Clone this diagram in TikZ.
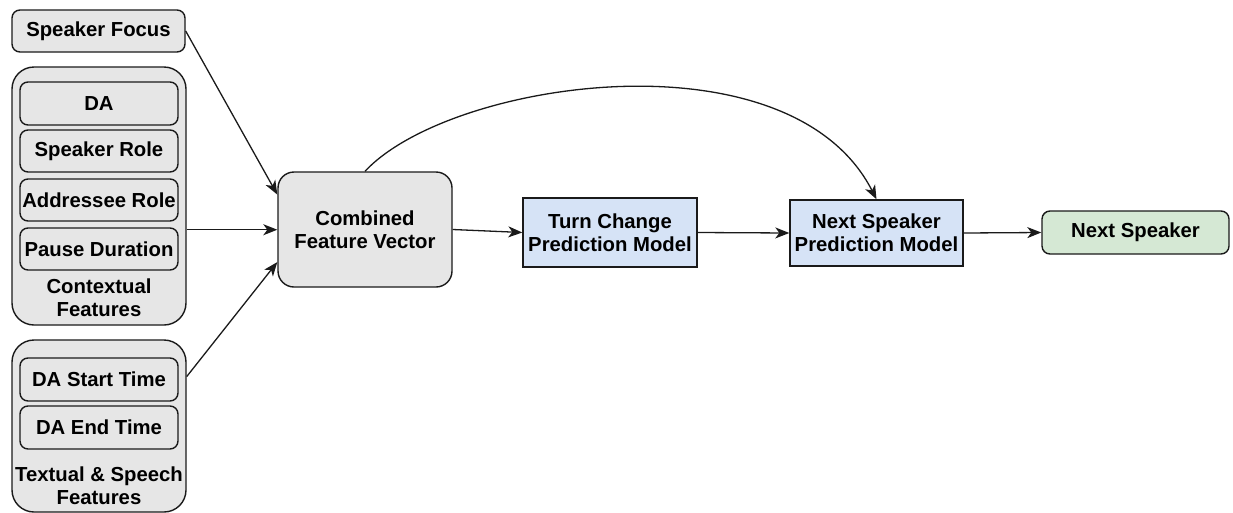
\documentclass[tikz,border=0pt]{standalone}
\usepackage{fontspec}
\setmainfont{Liberation Sans}
\usetikzlibrary{arrows.meta,calc}
\definecolor{grayfill}{HTML}{E6E6E6}
\definecolor{bluefill}{HTML}{D6E3F6}
\definecolor{greenfill}{HTML}{D5E8D4}
\definecolor{edge}{HTML}{1A1A1A}
\tikzset{
  base/.style={draw=edge, line width=1.4pt, inner sep=0pt, align=center,
    font=\fontsize{20.3}{23}\selectfont\bfseries},
  rbox/.style={base, fill=grayfill, rounded corners=8pt},
  group/.style={base, fill=grayfill, rounded corners=22pt},
  bigbox/.style={base, fill=grayfill, rounded corners=16pt},
  model/.style={base, fill=bluefill},
  outbox/.style={base, fill=greenfill, rounded corners=8pt},
  lbl/.style={inner sep=0pt, align=center, font=\fontsize{20.3}{23}\selectfont\bfseries},
  conn/.style={draw=edge, line width=1.3pt, -{Stealth[length=14pt,width=11pt,inset=4pt]}}
}
\begin{document}
\begin{tikzpicture}[x=1pt,y=-1pt]
\useasboundingbox (0,0) rectangle (1233,512);
% groups
\node[group, minimum width=174pt, minimum height=258pt] (ctx) at (99,196) {};
\node[group, minimum width=174pt, minimum height=172pt] (txt) at (99,426) {};
% inputs
\node[rbox, minimum width=173pt, minimum height=42pt] (sf) at (98.5,31) {Speaker Focus};
\node[rbox, minimum width=158pt, minimum height=43pt] (da) at (99,103.5) {DA};
\node[rbox, minimum width=158pt, minimum height=42pt] (sr) at (99,151) {Speaker Role};
\node[rbox, minimum width=158pt, minimum height=42pt] (ar) at (99,200) {Addressee Role};
\node[rbox, minimum width=158pt, minimum height=42pt] (pd) at (99,249) {Pause Duration};
\node[lbl] (ctxl) at (99,298) {Contextual\\Features};
\node[rbox, minimum width=158pt, minimum height=43pt] (dst) at (99,379.5) {DA Start Time};
\node[rbox, minimum width=158pt, minimum height=43pt] (det) at (99,427.5) {DA End Time};
\node[lbl] (txtl) at (99,485.5) {Textual \& Speech\\Features};
% main chain
\node[bigbox, minimum width=174pt, minimum height=115pt] (cfv) at (365,229.5) {Combined\\Feature Vector};
\node[model, minimum width=174pt, minimum height=69pt] (tc) at (610,232.5) {Turn Change\\Prediction Model};
\node[model, minimum width=173pt, minimum height=66pt] (pred) at (876.5,233) {Next Speaker\\Prediction Model};
\node[outbox, minimum width=187pt, minimum height=43pt] (ns) at (1135.5,232.5) {Next Speaker};
% connectors
\coordinate (c1) at ($(ctx.north east)!0.63!(ctx.south east)$);
\coordinate (c2) at ($(txt.north east)!0.215!(txt.south east)$);
\coordinate (t1) at ($(cfv.north west)!0.2!(cfv.south west)$);
\coordinate (t2) at ($(cfv.north west)!0.5!(cfv.south west)$);
\coordinate (t3) at ($(cfv.north west)!0.78!(cfv.south west)$);
\draw[conn] (sf.east) -- (t1);
\draw[conn] (c1) -- (c1 -| t2);
\draw[conn] (c2) -- (t3);
\draw[conn] (cfv.east) -- (tc.west);
\draw[conn] (tc.east) -- (pred.west);
\draw[conn] (pred.east) -- (ns.west);
\draw[conn] (cfv.north) .. controls (450,80) and (790,30) .. (pred.north);
\end{tikzpicture}
\end{document}
